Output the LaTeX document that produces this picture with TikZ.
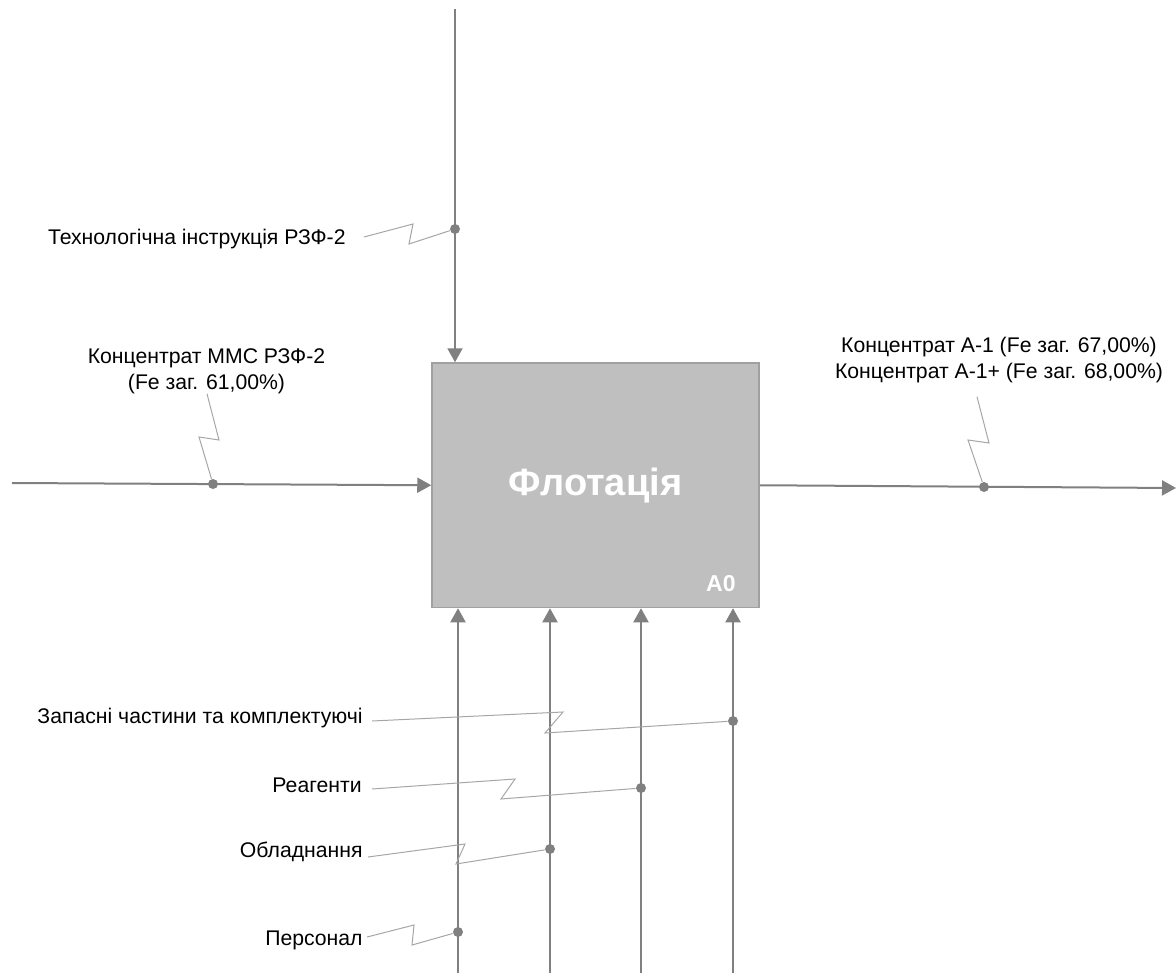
\documentclass[tikz,border=0pt]{standalone}
\usepackage{fontspec}
\setmainfont{Liberation Sans}
\usetikzlibrary{arrows.meta}
\definecolor{linegray}{HTML}{808080}
\definecolor{thingray}{HTML}{A6A6A6}
\definecolor{boxfill}{HTML}{BFBFBF}
\definecolor{boxline}{HTML}{A0A0A0}
\begin{document}
\begin{tikzpicture}[x=0.5pt,y=-0.5pt,
  flow/.style={draw=linegray, line width=1pt, -{Triangle[length=7pt,width=7.5pt]}},
  squig/.style={draw=thingray, line width=0.5pt},
  joint/.style={circle, fill=linegray, inner sep=0pt, minimum size=5pt},
  lbl/.style={font=\fontsize{10.6}{13}\selectfont, inner sep=0pt, text=black},
  func/.style={draw=boxline, fill=boxfill, line width=0.75pt, minimum width=163.5pt,
    minimum height=122.25pt, inner sep=0pt, text=white, font=\bfseries\fontsize{19}{21}\selectfont}]
\useasboundingbox (0,0) rectangle (1176,973);

% function box
\node[func] (f) at (595.5,485.25) {Флотація};
\node[anchor=base east, inner sep=0pt, text=white, font=\bfseries\fontsize{11.5}{13}\selectfont] (code) at (736,591.5) {A0};

% control
\coordinate (ctop) at (455,9);
\draw[flow] (ctop) -- (ctop |- f.north);
\node[joint] (dtech) at (455,229) {};
\node[lbl, anchor=base east] (tech) at (346,244) {Технологічна інструкція РЗФ-2};
\draw[squig] ([shift={(18,-7)}]tech.base east) -- (413,224) -- (409,244) -- (dtech);

% input
\coordinate (inl) at (12,483);
\draw[flow] (inl) -- (f.west);
\node[joint] (din) at (213,484) {};
\node[lbl, align=center, anchor=base] (inlbl) at (206.5,389) {Концентрат ММС РЗФ-2\\(Fe заг. 61,00\%)};
\draw[squig] ([shift={(0.5,0)}]inlbl.south) -- (219,440) -- (199,437) -- (din);

% output
\coordinate (outr) at (1176,488);
\draw[flow] (f.east) -- (outr);
\node[joint] (dout) at (984,487) {};
\node[lbl, align=center, anchor=base] (outlbl) at (999,378) {Концентрат А-1 (Fe заг. 67,00\%)\\Концентрат А-1+ (Fe заг. 68,00\%)};
\draw[squig] ([shift={(-22,14)}]outlbl.south) -- (989,443) -- (968,440) -- (dout);

% mechanisms
\coordinate (m1) at (458,973);
\coordinate (m2) at (550,973);
\coordinate (m3) at (641,973);
\coordinate (m4) at (733,973);
\foreach \m in {m1,m2,m3,m4} \draw[flow] (\m) -- (\m |- f.south);

\node[joint] (dzap) at (733,721) {};
\node[joint] (dreag) at (641,788) {};
\node[joint] (dobl) at (550,849) {};
\node[joint] (dpers) at (458,932) {};

\node[lbl, anchor=base east] (zap) at (363,723) {Запасні частини та комплектуючі};
\node[lbl, anchor=base east] (reag) at (362,792) {Реагенти};
\node[lbl, anchor=base east] (obl) at (363,857) {Обладнання};
\node[lbl, anchor=base east] (pers) at (363,945) {Персонал};

\draw[squig] ([shift={(9,-2)}]zap.base east) -- (563,712) -- (545,733) -- (dzap);
\draw[squig] ([shift={(10,-3)}]reag.base east) -- (515,779) -- (501,799) -- (dreag);
\draw[squig] ([shift={(5,0)}]obl.base east) -- (465,844) -- (456,864) -- (dobl);
\draw[squig] ([shift={(4,-8)}]pers.base east) -- (414,925) -- (412,945) -- (dpers);
\end{tikzpicture}
\end{document}
